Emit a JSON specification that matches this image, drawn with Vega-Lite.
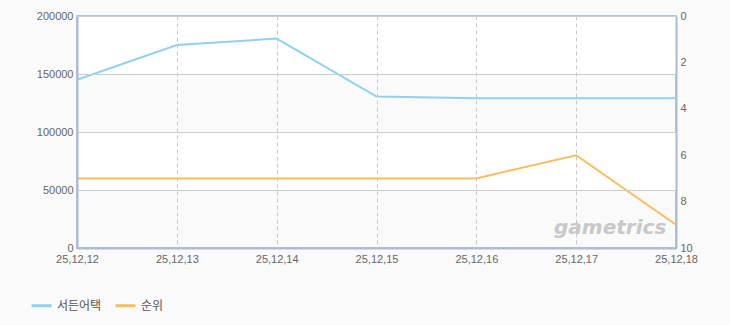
{
  "$schema": "https://vega.github.io/schema/vega-lite/v6.json",
  "width": 599,
  "height": 232,
  "autosize": "none",
  "padding": {"left": 77, "top": 16, "right": 54, "bottom": 77},
  "background": "#fafafa",
  "config": {
    "view": {"stroke": "#b3c5d9", "strokeWidth": 2},
    "font": "Liberation Sans",
    "axis": {"labelFont": "Liberation Sans", "labelFontSize": 11, "labelColor": "#666666", "ticks": false, "labelPadding": 4, "title": null, "domainColor": "#a9bcd2", "domainWidth": 2, "gridColor": "#cccccc", "gridWidth": 1},
    "legend": {"orient": "none", "legendX": -47, "legendY": 278, "direction": "horizontal", "symbolType": "stroke", "symbolStrokeWidth": 3, "symbolSize": 400, "labelFont": "Noto Sans CJK KR", "labelFontSize": 12, "labelColor": "#555555", "columnPadding": 7, "title": null}
  },
  "data": {"values": [
    {"date": "25,12,12", "series": "서든어택", "value": 145000},
    {"date": "25,12,13", "series": "서든어택", "value": 175000},
    {"date": "25,12,14", "series": "서든어택", "value": 180500},
    {"date": "25,12,15", "series": "서든어택", "value": 130500},
    {"date": "25,12,16", "series": "서든어택", "value": 129000},
    {"date": "25,12,17", "series": "서든어택", "value": 129000},
    {"date": "25,12,18", "series": "서든어택", "value": 129000},
    {"date": "25,12,12", "series": "순위", "value": 7},
    {"date": "25,12,13", "series": "순위", "value": 7},
    {"date": "25,12,14", "series": "순위", "value": 7},
    {"date": "25,12,15", "series": "순위", "value": 7},
    {"date": "25,12,16", "series": "순위", "value": 7},
    {"date": "25,12,17", "series": "순위", "value": 6},
    {"date": "25,12,18", "series": "순위", "value": 9}
  ]},
  "encoding": {
    "x": {"field": "date", "type": "ordinal", "scale": {"type": "point", "padding": 0},
      "axis": {"labelAngle": 0, "grid": true, "gridDash": [4, 3], "gridColor": "#c8c8c8", "labelPadding": 5, "zindex": 1}}
  },
  "layer": [
    {
      "layer": [
        {
          "data": {"values": [{"lo": 150000, "hi": 200000}, {"lo": 50000, "hi": 100000}]},
          "mark": {"type": "rect", "color": "#ffffff"},
          "encoding": {
            "x": null,
            "y": {"field": "lo", "type": "quantitative"},
            "y2": {"field": "hi"}
          }
        },
        {
          "data": {"values": [{"date": "25,12,17", "v": 17200, "label": "gametrics"}]},
          "mark": {"type": "text", "dx": 34, "font": "DejaVu Sans", "fontSize": 20, "fontWeight": "bold", "fontStyle": "italic", "color": "#c8c8c8"},
          "encoding": {
            "y": {"field": "v", "type": "quantitative"},
            "text": {"field": "label"}
          }
        },
        {
          "transform": [{"filter": "datum.series === '서든어택'"}],
          "mark": {"type": "line", "strokeWidth": 2},
          "encoding": {
            "y": {"field": "value", "type": "quantitative", "scale": {"domain": [0, 200000], "nice": false},
              "axis": {"orient": "left", "values": [0, 50000, 100000, 150000, 200000], "grid": true, "format": "d", "zindex": 1}},
            "color": {"field": "series", "type": "nominal", "scale": {"domain": ["서든어택", "순위"], "range": ["#90d1f0", "#fcbc5a"]}}
          }
        }
      ]
    },
    {
      "transform": [{"filter": "datum.series === '순위'"}],
      "mark": {"type": "line", "strokeWidth": 2},
      "encoding": {
        "y": {"field": "value", "type": "quantitative", "scale": {"domain": [0, 10], "reverse": true, "nice": false},
          "axis": {"orient": "right", "values": [0, 2, 4, 6, 8, 10], "grid": false, "zindex": 1}},
        "color": {"field": "series", "type": "nominal"}
      }
    }
  ],
  "resolve": {"scale": {"y": "independent"}}
}
